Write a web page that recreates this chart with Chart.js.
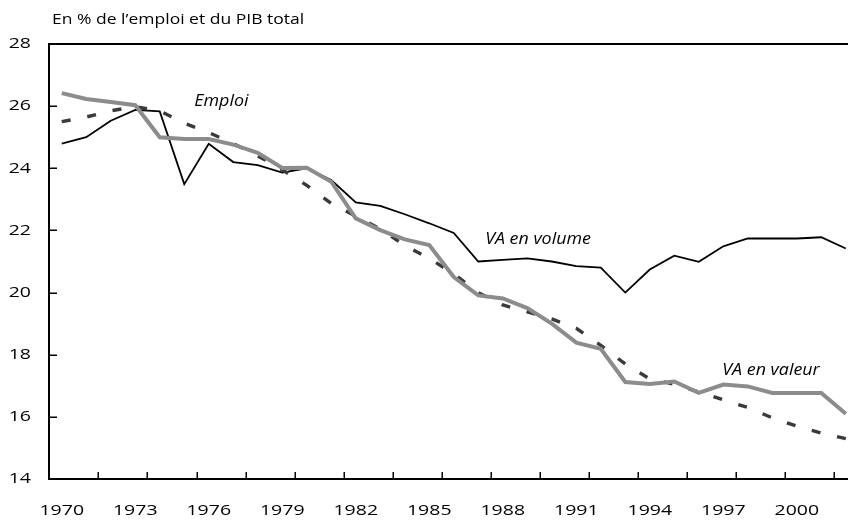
<!DOCTYPE html>
<html><head><meta charset="utf-8">
<script src="https://cdn.jsdelivr.net/npm/chart.js@4/dist/chart.umd.min.js"></script>
<style>html,body{margin:0;padding:0;background:#fff;}#wrap{width:848px;height:523px;}</style>
</head><body><div id="wrap"><canvas id="c" width="848" height="523"></canvas></div>
<script>
const years = [1970,1971,1972,1973,1974,1975,1976,1977,1978,1979,1980,1981,1982,1983,1984,1985,1986,1987,1988,1989,1990,1991,1992,1993,1994,1995,1996,1997,1998,1999,2000,2001,2002];
const emploi = [25.5,25.65,25.85,25.98,25.85,25.45,25.15,24.8,24.4,23.95, 23.45,22.87,22.46,22.05,21.52,21.1,20.6,20.0,19.6,19.38, 19.15,18.85,18.3,17.7,17.22,17.05,16.8,16.55,16.3,15.97, 15.7,15.48,15.3];
const vaVolume = [24.79,25.0,25.53,25.88,25.83,23.49,24.79,24.2,24.1,23.86, 24.0,23.62,22.9,22.79,22.52,22.23,21.92,21.0,21.05,21.1, 21.0,20.85,20.8,20.0,20.74,21.19,20.99,21.49,21.74,21.74, 21.74,21.78,21.42];
const vaValeur = [26.42,26.23,26.13,26.03,25.0,24.94,24.94,24.76,24.5,24.01, 24.02,23.57,22.39,22.01,21.71,21.53,20.5,19.91,19.81,19.5, 19.0,18.39,18.19,17.12,17.06,17.14,16.77,17.04,16.98,16.77, 16.77,16.77,16.1];
const xLabelYears = [1970,1973,1976,1979,1982,1985,1988,1991,1994,1997,2000];
const xTickMarks = [1971.5,1973.5,1975.5,1977.5,1979.5,1981.5,1983.5,1985.5,1987.5,1989.5,1991.5,1993.5,1995.5,1997.5,1999.5,2001.5];
const yTicks = [14,16,18,20,22,24,26,28];
const titleText = "En % de l’emploi et du PIB total";
const seriesNames = ["Emploi","VA en volume","VA en valeur"];
const annotations = [
  {text: "Emploi", x: 1975.41, y: 26.01},
  {text: "VA en volume", x: 1987.28, y: 21.56},
  {text: "VA en valeur", x: 1996.96, y: 17.35}
];

const FONT = "'Open Sans', 'Noto Sans', sans-serif";
let textStretch = 1;

function stretchedText(ctx) {
  if (ctx.__stretchPatched) return;
  const base = CanvasRenderingContext2D.prototype.fillText;
  ctx.fillText = function (t, x, y, mw) {
    if (textStretch === 1) return base.call(this, t, x, y, mw);
    this.save();
    this.translate(x, y);
    this.scale(textStretch, 1);
    base.call(this, t, 0, 0);
    this.restore();
  };
  ctx.__stretchPatched = true;
}

const decor = {
  id: 'decor',
  beforeDraw(chart) {
    stretchedText(chart.ctx);
    textStretch = 1.3;
  },
  beforeDatasetsDraw() {
    textStretch = 1;
  },
  afterDatasetsDraw(chart) {
    const {ctx, chartArea: a, scales: {x, y}} = chart;
    ctx.save();
    ctx.strokeStyle = '#000';
    ctx.lineWidth = 1.5;
    ctx.beginPath();
    xTickMarks.forEach(v => {
      const px = Math.round(x.getPixelForValue(v)) + 0.25;
      ctx.moveTo(px, a.bottom);
      ctx.lineTo(px, a.bottom - 7);
    });
    yTicks.forEach(v => {
      const py = Math.round(y.getPixelForValue(v)) + 0.25;
      ctx.moveTo(a.left, py);
      ctx.lineTo(a.left + 8, py);
    });
    ctx.stroke();
    ctx.lineWidth = 2;
    ctx.beginPath();
    ctx.moveTo(a.left - 1, a.top);
    ctx.lineTo(a.right + 2, a.top);
    ctx.stroke();
    ctx.restore();
  },
  afterDraw(chart) {
    const {ctx, scales: {x, y}} = chart;
    ctx.save();
    ctx.fillStyle = '#000';
    ctx.font = "14px " + FONT;
    ctx.textBaseline = 'middle';
    ctx.textAlign = 'left';
    textStretch = 1.25;
    ctx.fillText(titleText, 52, 20);
    textStretch = 1.05;
    ctx.font = "italic 17px " + FONT;
    ctx.textBaseline = 'alphabetic';
    annotations.forEach(an => {
      ctx.fillText(an.text, x.getPixelForValue(an.x), y.getPixelForValue(an.y));
    });
    textStretch = 1;
    ctx.restore();
  }
};

new Chart(document.getElementById('c'), {
  type: 'line',
  data: {
    datasets: [
      {label: seriesNames[1], data: years.map((yr, i) => ({x: yr, y: vaVolume[i]})), borderColor: '#000', borderWidth: 1.8, pointRadius: 0, tension: 0, order: 3},
      {label: seriesNames[0], data: years.map((yr, i) => ({x: yr, y: emploi[i]})), borderColor: '#3a3a3a', borderWidth: 3.4, borderDash: [9, 17], pointRadius: 0, tension: 0, order: 2},
      {label: seriesNames[2], data: years.map((yr, i) => ({x: yr, y: vaValeur[i]})), borderColor: '#8c8c8c', borderWidth: 4, pointRadius: 0, tension: 0, order: 1}
    ]
  },
  options: {
    responsive: false,
    animation: false,
    devicePixelRatio: 1,
    layout: {padding: {top: 44, left: 0, right: 0, bottom: 0}},
    plugins: {legend: {display: false}, tooltip: {enabled: false}, title: {display: false}},
    scales: {
      x: {
        type: 'linear', min: 1969.48, max: 2002.09,
        afterBuildTicks: s => { s.ticks = xLabelYears.map(v => ({value: v})); },
        afterFit: s => { s.height = 44; },
        grid: {display: false, drawTicks: false},
        border: {display: true, color: '#000', width: 2},
        ticks: {color: '#000', font: {family: FONT, size: 15}, padding: 23, maxRotation: 0, autoSkip: false, callback: v => String(v)}
      },
      y: {
        type: 'linear', min: 14, max: 28,
        afterBuildTicks: s => { s.ticks = yTicks.map(v => ({value: v})); },
        afterFit: s => { s.width = 49; },
        grid: {display: false, drawTicks: false},
        border: {display: true, color: '#000', width: 2},
        ticks: {color: '#000', font: {family: FONT, size: 15}, padding: 18, callback: v => String(v)}
      }
    }
  },
  plugins: [decor]
});
</script>
</body></html>
